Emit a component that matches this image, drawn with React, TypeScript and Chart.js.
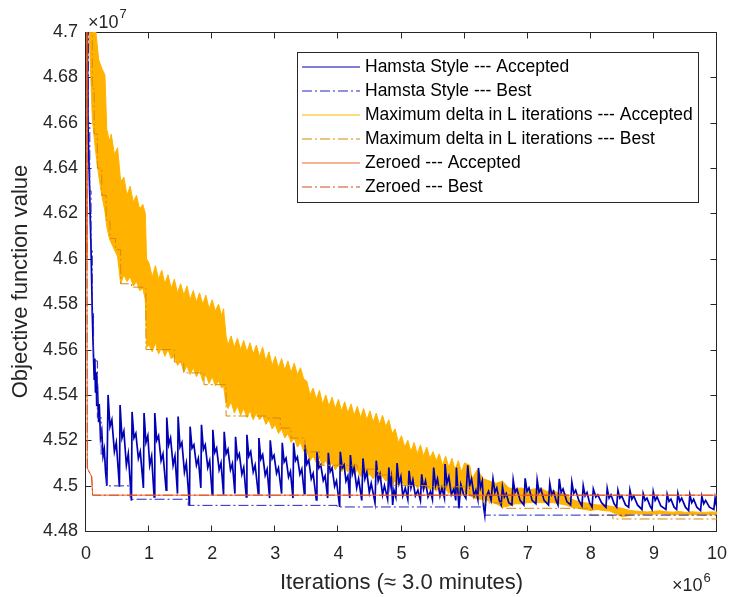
import React, { useEffect, useRef } from 'react';
import { Chart, registerables } from 'chart.js';

Chart.register(...registerables);

// ---------- axis ticks ----------
const xTicks = [0, 1, 2, 3, 4, 5, 6, 7, 8, 9, 10];
const yTicks = [4.48, 4.5, 4.52, 4.54, 4.56, 4.58, 4.6, 4.62, 4.64, 4.66, 4.68, 4.7];
const yTickLabels = ['4.48', '4.5', '4.52', '4.54', '4.56', '4.58', '4.6', '4.62', '4.64', '4.66', '4.68', '4.7'];

// ---------- series (x in 1e6 iterations, y in 1e7) ----------
const hamstaAccepted: [number, number][] = [
  [0.015, 4.75], [0.025, 4.68], [0.03, 4.661], [0.05, 4.639], [0.07, 4.615], [0.08, 4.604], [0.1, 4.576], [0.11, 4.565], [0.12, 4.556], [0.13, 4.547],
  [0.14, 4.556], [0.15, 4.541], [0.16, 4.55], [0.17, 4.535], [0.18, 4.545], [0.2, 4.528], [0.21, 4.536], [0.23, 4.521], [0.25, 4.524], [0.27, 4.513], [0.29, 4.516], [0.31, 4.506], [0.33, 4.4999],
  [0.35, 4.54], [0.38, 4.526], [0.41, 4.529], [0.45, 4.515], [0.48, 4.519], [0.53, 4.4995],
  [0.54, 4.5355], [0.57, 4.521], [0.6, 4.524], [0.64, 4.509], [0.67, 4.514], [0.72, 4.4934],
  [0.73, 4.5325], [0.76, 4.521], [0.79, 4.523], [0.83, 4.512], [0.86, 4.515], [0.91, 4.499],
  [0.92, 4.532], [0.95, 4.519], [0.98, 4.522], [1.01, 4.509], [1.04, 4.513], [1.08, 4.495],
  [1.09, 4.532], [1.12, 4.52], [1.15, 4.522], [1.19, 4.511], [1.22, 4.514], [1.27, 4.498],
  [1.28, 4.53], [1.31, 4.518], [1.34, 4.521], [1.38, 4.509], [1.41, 4.513], [1.45, 4.4965],
  [1.46, 4.5305], [1.49, 4.517], [1.52, 4.519], [1.56, 4.506], [1.59, 4.51], [1.64, 4.4913],
  [1.65, 4.526], [1.68, 4.5165], [1.71, 4.518], [1.75, 4.509], [1.78, 4.512], [1.82, 4.499],
  [1.83, 4.5268], [1.86, 4.516], [1.89, 4.518], [1.93, 4.508], [1.96, 4.511], [2.0, 4.496],
  [2.01, 4.5246], [2.04, 4.5146], [2.07, 4.5166], [2.11, 4.507], [2.14, 4.51], [2.18, 4.496],
  [2.19, 4.5237], [2.22, 4.514], [2.25, 4.516], [2.29, 4.507], [2.32, 4.5097], [2.36, 4.4965],
  [2.37, 4.5215], [2.4, 4.512], [2.43, 4.514], [2.47, 4.505], [2.5, 4.508], [2.54, 4.495],
  [2.55, 4.5224], [2.58, 4.513], [2.61, 4.515], [2.65, 4.506], [2.68, 4.509], [2.73, 4.4965],
  [2.74, 4.521], [2.77, 4.5117], [2.8, 4.5136], [2.84, 4.5046], [2.87, 4.5072], [2.91, 4.4945],
  [2.92, 4.52], [2.95, 4.5118], [2.98, 4.5134], [3.02, 4.5054], [3.05, 4.5078], [3.1, 4.4965],
  [3.11, 4.5189], [3.14, 4.5104], [3.17, 4.5121], [3.21, 4.5038], [3.24, 4.5062], [3.28, 4.4945],
  [3.29, 4.5189], [3.32, 4.511], [3.35, 4.5126], [3.39, 4.505], [3.42, 4.5073], [3.46, 4.4965],
  [3.47, 4.518], [3.5, 4.5095], [3.53, 4.5112], [3.57, 4.503], [3.6, 4.5054], [3.65, 4.4937],
  [3.66, 4.5149], [3.69, 4.5078], [3.72, 4.5092], [3.76, 4.5022], [3.79, 4.5043], [3.83, 4.4945],
  [3.84, 4.5145], [3.87, 4.5061], [3.9, 4.5078], [3.94, 4.4997], [3.97, 4.5021], [4.02, 4.4906],
  [4.03, 4.5149], [4.06, 4.5078], [4.09, 4.5092], [4.12, 4.502], [4.15, 4.5043], [4.18, 4.4945],
  [4.19, 4.5135], [4.22, 4.505], [4.25, 4.508], [4.29, 4.499], [4.32, 4.503], [4.37, 4.4935],
  [4.39, 4.512], [4.42, 4.503], [4.45, 4.506], [4.49, 4.497], [4.52, 4.501], [4.58, 4.4925],
  [4.6, 4.511], [4.63, 4.502], [4.66, 4.505], [4.7, 4.496], [4.73, 4.5], [4.78, 4.494],
  [4.8, 4.508], [4.82, 4.5], [4.84, 4.5035], [4.86, 4.4915], [4.88, 4.498], [4.91, 4.495],
  [4.93, 4.51], [4.96, 4.501], [4.99, 4.504], [5.02, 4.4955], [5.06, 4.499], [5.1, 4.494],
  [5.12, 4.5065], [5.15, 4.499], [5.18, 4.5025], [5.22, 4.4955], [5.26, 4.498], [5.3, 4.4935],
  [5.32, 4.505], [5.35, 4.4985], [5.38, 4.502], [5.42, 4.495], [5.46, 4.4975], [5.49, 4.494],
  [5.51, 4.508], [5.54, 4.5], [5.57, 4.503], [5.61, 4.4955], [5.64, 4.499], [5.68, 4.4945],
  [5.69, 4.5095], [5.72, 4.501], [5.75, 4.504], [5.79, 4.496], [5.83, 4.4985], [5.86, 4.4935],
  [5.87, 4.508], [5.89, 4.4995], [5.91, 4.49], [5.94, 4.5005], [5.98, 4.4965], [6.02, 4.4945],
  [6.05, 4.509], [6.08, 4.5], [6.11, 4.503], [6.15, 4.4955], [6.18, 4.498], [6.21, 4.494],
  [6.22, 4.5078], [6.25, 4.499], [6.28, 4.502], [6.3, 4.491], [6.32, 4.487], [6.34, 4.495], [6.38, 4.4975], [6.42, 4.4935],
  [6.45, 4.503], [6.48, 4.497], [6.51, 4.499], [6.55, 4.4935], [6.58, 4.4915],
  [6.6, 4.4995], [6.63, 4.495], [6.66, 4.4965], [6.7, 4.4925], [6.75, 4.4915],
  [6.77, 4.5025], [6.8, 4.497], [6.83, 4.4985], [6.88, 4.4935], [6.94, 4.4915],
  [6.96, 4.5032], [6.99, 4.4975], [7.02, 4.499], [7.07, 4.4935], [7.13, 4.492],
  [7.15, 4.5025], [7.18, 4.497], [7.21, 4.4985], [7.26, 4.4935], [7.33, 4.4915],
  [7.35, 4.501], [7.38, 4.496], [7.41, 4.4975], [7.45, 4.4935], [7.48, 4.4915],
  [7.5, 4.503], [7.53, 4.497], [7.56, 4.4985], [7.62, 4.493], [7.68, 4.4915],
  [7.7, 4.5015], [7.73, 4.4965], [7.76, 4.498], [7.81, 4.4935], [7.86, 4.491],
  [7.88, 4.5], [7.91, 4.4955], [7.94, 4.497], [7.98, 4.4925], [8.02, 4.4905],
  [8.04, 4.4985], [8.08, 4.495], [8.11, 4.496], [8.17, 4.4925], [8.24, 4.4905],
  [8.26, 4.4988], [8.29, 4.4945], [8.32, 4.496], [8.37, 4.492], [8.41, 4.4905],
  [8.43, 4.498], [8.46, 4.4945], [8.49, 4.4955], [8.55, 4.4915], [8.6, 4.4905],
  [8.62, 4.498], [8.65, 4.494], [8.68, 4.4955], [8.74, 4.4915], [8.81, 4.4895],
  [8.83, 4.4965], [8.86, 4.4935], [8.89, 4.4945], [8.94, 4.491], [8.97, 4.4895],
  [8.99, 4.4973], [9.02, 4.4935], [9.05, 4.495], [9.11, 4.491], [9.19, 4.4895],
  [9.21, 4.4962], [9.24, 4.493], [9.27, 4.494], [9.32, 4.4905], [9.36, 4.4895],
  [9.38, 4.4966], [9.41, 4.493], [9.44, 4.4945], [9.5, 4.4905], [9.55, 4.489],
  [9.57, 4.496], [9.6, 4.4925], [9.63, 4.494], [9.68, 4.4905], [9.74, 4.489],
  [9.76, 4.4953], [9.79, 4.492], [9.82, 4.4935], [9.88, 4.4905], [9.95, 4.4895],
  [9.97, 4.4945], [9.99, 4.4915], [10.0, 4.4905],
];

// step points: value holds from x until the next x
const hamstaBest: [number, number][] = [
  [0.02, 4.75], [0.04, 4.66], [0.06, 4.63], [0.08, 4.604], [0.1, 4.575], [0.12, 4.555], [0.18, 4.53], [0.24, 4.513],
  [0.33, 4.4999], [0.7, 4.494], [1.62, 4.4913], [3.98, 4.4906], [6.32, 4.487], [10.0, 4.487],
];

// [x, upper, lower] envelope of the dense "accepted" trace
const maxDeltaAcceptedBand: [number, number, number][] = [
  [0.05, 4.725, 4.7], [0.1, 4.712, 4.662], [0.15, 4.702, 4.648], [0.2, 4.688, 4.637], [0.25, 4.684, 4.628],
  [0.3, 4.681, 4.621], [0.33, 4.657, 4.614], [0.37, 4.652, 4.609], [0.4, 4.655, 4.607], [0.45, 4.646, 4.604], [0.5, 4.649, 4.601],
  [0.55, 4.634, 4.589], [0.6, 4.636, 4.593], [0.65, 4.628, 4.59], [0.7, 4.632, 4.592], [0.75, 4.625, 4.588],
  [0.8, 4.628, 4.59], [0.85, 4.622, 4.586], [0.9, 4.624, 4.587], [0.94, 4.62, 4.582], [0.96, 4.6, 4.561],
  [1.0, 4.598, 4.562], [1.05, 4.592, 4.559], [1.1, 4.597, 4.563], [1.15, 4.591, 4.558], [1.2, 4.595, 4.561],
  [1.25, 4.589, 4.557], [1.3, 4.593, 4.56], [1.35, 4.587, 4.556], [1.4, 4.591, 4.557], [1.45, 4.585, 4.553],
  [1.5, 4.589, 4.555], [1.55, 4.584, 4.55], [1.6, 4.588, 4.553], [1.65, 4.582, 4.549], [1.7, 4.586, 4.552],
  [1.75, 4.581, 4.548], [1.8, 4.585, 4.551], [1.85, 4.58, 4.546], [1.9, 4.584, 4.549], [1.95, 4.578, 4.545],
  [2.0, 4.582, 4.548], [2.05, 4.577, 4.544], [2.1, 4.58, 4.546], [2.15, 4.575, 4.543], [2.18, 4.578, 4.544],
  [2.22, 4.566, 4.536], [2.25, 4.562, 4.534], [2.3, 4.566, 4.537], [2.35, 4.561, 4.532], [2.4, 4.565, 4.535],
  [2.45, 4.56, 4.531], [2.5, 4.564, 4.534], [2.55, 4.559, 4.53], [2.6, 4.563, 4.533], [2.65, 4.558, 4.529],
  [2.7, 4.562, 4.532], [2.75, 4.557, 4.529], [2.8, 4.561, 4.531], [2.85, 4.555, 4.527], [2.9, 4.559, 4.529],
  [2.95, 4.553, 4.525], [3.0, 4.557, 4.527], [3.05, 4.552, 4.523], [3.1, 4.556, 4.525], [3.15, 4.551, 4.521],
  [3.2, 4.555, 4.523], [3.25, 4.55, 4.519], [3.3, 4.554, 4.521], [3.35, 4.549, 4.517], [3.4, 4.552, 4.519],
  [3.45, 4.547, 4.515], [3.5, 4.546, 4.515], [3.55, 4.54, 4.511], [3.6, 4.543, 4.513], [3.65, 4.538, 4.51],
  [3.7, 4.542, 4.512], [3.75, 4.536, 4.509], [3.8, 4.54, 4.511], [3.85, 4.535, 4.508], [3.9, 4.539, 4.51],
  [3.95, 4.534, 4.507], [4.0, 4.538, 4.509], [4.05, 4.533, 4.506], [4.1, 4.537, 4.508], [4.15, 4.532, 4.506],
  [4.2, 4.536, 4.508], [4.25, 4.531, 4.505], [4.3, 4.535, 4.507], [4.35, 4.53, 4.504], [4.4, 4.534, 4.506],
  [4.45, 4.529, 4.504], [4.5, 4.533, 4.505], [4.55, 4.528, 4.503], [4.6, 4.532, 4.505], [4.65, 4.527, 4.502],
  [4.7, 4.531, 4.504], [4.75, 4.526, 4.502], [4.8, 4.529, 4.503], [4.85, 4.523, 4.501], [4.9, 4.525, 4.502],
  [4.95, 4.519, 4.5], [5.0, 4.522, 4.502], [5.05, 4.517, 4.5], [5.1, 4.52, 4.501], [5.15, 4.515, 4.499],
  [5.2, 4.519, 4.501], [5.25, 4.514, 4.499], [5.3, 4.518, 4.5], [5.35, 4.513, 4.498], [5.4, 4.517, 4.5],
  [5.45, 4.512, 4.498], [5.5, 4.515, 4.499], [5.55, 4.511, 4.4975], [5.6, 4.514, 4.499], [5.65, 4.509, 4.497],
  [5.7, 4.513, 4.4985], [5.75, 4.508, 4.4965], [5.8, 4.512, 4.498], [5.85, 4.507, 4.496], [5.9, 4.511, 4.4975],
  [5.95, 4.506, 4.496], [6.0, 4.51, 4.497], [6.08, 4.509, 4.496], [6.12, 4.503, 4.495], [6.2, 4.507, 4.494],
  [6.3, 4.503, 4.494], [6.4, 4.502, 4.493], [6.5, 4.501, 4.492], [6.6, 4.502, 4.4905], [6.7, 4.499, 4.491],
  [6.8, 4.4985, 4.492], [6.9, 4.499, 4.492], [7.0, 4.498, 4.4925], [7.1, 4.4985, 4.4925], [7.2, 4.499, 4.4925],
  [7.3, 4.4975, 4.4925], [7.4, 4.498, 4.4925], [7.5, 4.4965, 4.492], [7.6, 4.4965, 4.4915], [7.7, 4.494, 4.4905],
  [7.8, 4.493, 4.49], [7.9, 4.4925, 4.4895], [8.0, 4.492, 4.489], [8.1, 4.4915, 4.4895], [8.2, 4.4915, 4.489],
  [8.3, 4.491, 4.4888], [8.4, 4.4905, 4.4875], [8.5, 4.49, 4.4862], [8.6, 4.4892, 4.4868], [8.7, 4.4888, 4.4876],
  [8.8, 4.4886, 4.4874], [8.9, 4.4884, 4.4872], [9.0, 4.4887, 4.4874], [9.1, 4.4889, 4.4876], [9.2, 4.4885, 4.4873],
  [9.3, 4.4883, 4.4871], [9.4, 4.4886, 4.4873], [9.5, 4.4882, 4.4871], [9.6, 4.4885, 4.4872], [9.7, 4.4883, 4.4873],
  [9.8, 4.4882, 4.487], [9.9, 4.4884, 4.4872], [10.0, 4.4883, 4.4873],
];

const maxDeltaBest: [number, number][] = [
  [0.03, 4.75], [0.07, 4.7], [0.1, 4.675], [0.13, 4.655], [0.18, 4.64], [0.25, 4.628], [0.32, 4.617], [0.38, 4.609],
  [0.47, 4.604], [0.55, 4.589], [0.72, 4.5875], [0.95, 4.56], [1.4, 4.5545], [1.55, 4.5497], [1.87, 4.5445],
  [2.22, 4.5307], [2.86, 4.5298], [3.08, 4.5254], [3.25, 4.521], [3.47, 4.5149], [3.7, 4.509], [4.3, 4.5073],
  [4.62, 4.5047], [4.87, 4.5], [5.4, 4.4995], [6.08, 4.4955], [6.3, 4.4924], [6.6, 4.49], [8.0, 4.487],
  [8.35, 4.4853], [10.0, 4.4853],
];

const zeroedAccepted: [number, number][] = [
  [0.01, 4.75], [0.015, 4.6], [0.02, 4.5078], [0.05, 4.506], [0.09, 4.504], [0.105, 4.4958], [10.0, 4.4958],
];

const zeroedBest: [number, number][] = [
  [0.01, 4.75], [0.02, 4.5078], [0.09, 4.504], [0.105, 4.4958], [10.0, 4.4958],
];

const seriesLabels = [
  'Hamsta Style --- Accepted',
  'Hamsta Style --- Best',
  'Maximum delta in L iterations --- Accepted',
  'Maximum delta in L iterations --- Best',
  'Zeroed --- Accepted',
  'Zeroed --- Best',
];

// ---------- styles ----------
const BLUE = '#0000B4';
const BLUE_BEST = '#2424C4';
const ORANGE = '#FFB300';
const ORANGE_BEST = '#D38A0C';
const RED = '#F0642A';
const RED_BEST = '#D44A1C';
const DASHDOT = [10, 3, 2, 3];
const AXIS = '#262626';
const FONT = "'Liberation Sans', Arial, Helvetica, sans-serif";

const legendStyles = [
  { color: BLUE, dash: [] as number[] },
  { color: BLUE_BEST, dash: DASHDOT },
  { color: ORANGE, dash: [] as number[] },
  { color: ORANGE_BEST, dash: DASHDOT },
  { color: RED, dash: [] as number[] },
  { color: RED_BEST, dash: DASHDOT },
];

const pts = (arr: [number, number][]) => arr.map(([x, y]) => ({ x, y }));

const decorPlugin = {
  id: 'matlabDecor',
  beforeDatasetsDraw(chart: any) {
    const { ctx, chartArea: a, scales } = chart;
    ctx.save();
    ctx.strokeStyle = AXIS;
    ctx.lineWidth = 1;
    const L = a.left - 0.5, R = a.right - 0.5, T = a.top + 0.5, B = a.bottom + 0.5;
    ctx.beginPath();
    ctx.rect(L, T, R - L, B - T);
    const tick = 6;
    for (const v of xTicks) {
      const px = Math.round(scales.x.getPixelForValue(v)) - 0.5;
      ctx.moveTo(px, B); ctx.lineTo(px, B - tick);
      ctx.moveTo(px, T); ctx.lineTo(px, T + tick);
    }
    for (const v of yTicks) {
      const py = Math.round(scales.y.getPixelForValue(v)) + 0.5;
      ctx.moveTo(L, py); ctx.lineTo(L + tick, py);
      ctx.moveTo(R, py); ctx.lineTo(R - tick, py);
    }
    ctx.stroke();
    ctx.restore();
  },
  afterDatasetsDraw(chart: any) {
    const { ctx } = chart;
    ctx.save();
    const bx = 297, by = 52, bw = 401, bh = 150;
    ctx.fillStyle = '#ffffff';
    ctx.fillRect(bx, by, bw, bh);
    ctx.strokeStyle = AXIS;
    ctx.lineWidth = 1;
    ctx.strokeRect(bx + 0.5, by + 0.5, bw, bh);
    ctx.font = `17.5px ${FONT}`;
    ctx.textBaseline = 'middle';
    ctx.textAlign = 'left';
    seriesLabels.forEach((label, i) => {
      const cy = 67 + i * 24;
      const st = legendStyles[i];
      ctx.save();
      ctx.strokeStyle = st.color;
      ctx.lineWidth = 1.2;
      ctx.setLineDash(st.dash);
      ctx.beginPath();
      ctx.moveTo(302, cy);
      ctx.lineTo(360, cy);
      ctx.stroke();
      ctx.restore();
      ctx.fillStyle = '#000000';
      ctx.fillText(label, 365, cy);
    });
    ctx.restore();
  },
  afterDraw(chart: any) {
    const { ctx, chartArea: a } = chart;
    ctx.save();
    ctx.fillStyle = AXIS;
    ctx.font = `22px ${FONT}`;
    ctx.textAlign = 'center';
    ctx.textBaseline = 'alphabetic';
    ctx.fillText('Iterations (\u2248 3.0 minutes)', (a.left + a.right) / 2, 589);
    ctx.save();
    ctx.translate(21, (a.top + a.bottom) / 2);
    ctx.rotate(-Math.PI / 2);
    ctx.textBaseline = 'middle';
    ctx.fillText('Objective function value', 0, 0);
    ctx.restore();
    ctx.textAlign = 'left';
    ctx.textBaseline = 'alphabetic';
    ctx.font = `18px ${FONT}`;
    const w7 = ctx.measureText('\u00d710').width;
    ctx.fillText('\u00d710', 88, 28);
    ctx.font = `13px ${FONT}`;
    ctx.fillText('7', 88 + w7 + 1, 18);
    ctx.font = `18px ${FONT}`;
    const w6 = ctx.measureText('\u00d710').width;
    ctx.fillText('\u00d710', 672, 591);
    ctx.font = `13px ${FONT}`;
    ctx.fillText('6', 672 + w6 + 1, 582);
    ctx.restore();
  },
};

export default function App() {
  const ref = useRef<HTMLCanvasElement>(null);
  useEffect(() => {
    document.body.style.margin = '0';
    const canvas = ref.current;
    if (!canvas) return;
    const lineBase = { pointRadius: 0, borderWidth: 1, tension: 0, fill: false };
    const chart = new Chart(canvas, {
      type: 'line',
      data: {
        datasets: [
          { ...lineBase, label: seriesLabels[0], data: pts(hamstaAccepted), borderColor: BLUE, order: 4, borderWidth: 1.7 },
          { ...lineBase, label: seriesLabels[1], data: pts(hamstaBest), borderColor: BLUE_BEST, borderDash: DASHDOT, stepped: 'before', order: 2 },
          { ...lineBase, label: seriesLabels[2], data: maxDeltaAcceptedBand.map(([x, hi]) => ({ x, y: hi })), borderColor: ORANGE, order: 5 },
          { ...lineBase, label: seriesLabels[3], data: pts(maxDeltaBest), borderColor: ORANGE_BEST, borderDash: DASHDOT, stepped: 'before', order: 3 },
          { ...lineBase, label: seriesLabels[4], data: pts(zeroedAccepted), borderColor: RED, order: 1 },
          { ...lineBase, label: seriesLabels[5], data: pts(zeroedBest), borderColor: RED_BEST, borderDash: DASHDOT, order: 0 },
          { ...lineBase, label: 'band', data: maxDeltaAcceptedBand.map(([x, , lo]) => ({ x, y: lo })), borderColor: ORANGE, backgroundColor: ORANGE, fill: 2, order: 6 },
        ] as any,
      },
      options: {
        animation: false,
        responsive: false,
        devicePixelRatio: 1,
        events: [],
        layout: { padding: { left: 0, right: 12, top: 32, bottom: 0 } },
        plugins: { legend: { display: false }, tooltip: { enabled: false }, filler: { propagate: false } } as any,
        scales: {
          x: {
            type: 'linear', min: 0, max: 10,
            grid: { display: false, drawTicks: false },
            border: { display: false },
            ticks: { padding: 12, color: AXIS, font: { family: FONT, size: 18 }, maxRotation: 0, autoSkip: false, callback: (v: any) => String(v) },
            afterBuildTicks: (s: any) => { s.ticks = xTicks.map((v) => ({ value: v })); },
            afterFit: (s: any) => { s.height = 66; s.paddingLeft = 0; s.paddingRight = 0; },
          },
          y: {
            type: 'linear', min: 4.48, max: 4.7,
            grid: { display: false, drawTicks: false },
            border: { display: false },
            ticks: { padding: 8, color: AXIS, font: { family: FONT, size: 18 }, autoSkip: false, callback: (_v: any, i: number) => yTickLabels[i] },
            afterBuildTicks: (s: any) => { s.ticks = yTicks.map((v) => ({ value: v })); },
            afterFit: (s: any) => { s.width = 86; s.paddingTop = 0; s.paddingBottom = 0; },
          },
        } as any,
      },
      plugins: [decorPlugin],
    });
    return () => chart.destroy();
  }, []);
  return (
    <div style={{ width: 729, height: 597, position: 'relative', overflow: 'hidden', background: '#ffffff' }}>
      <canvas ref={ref} width={729} height={597} style={{ display: 'block', width: 729, height: 597 }} />
    </div>
  );
}
